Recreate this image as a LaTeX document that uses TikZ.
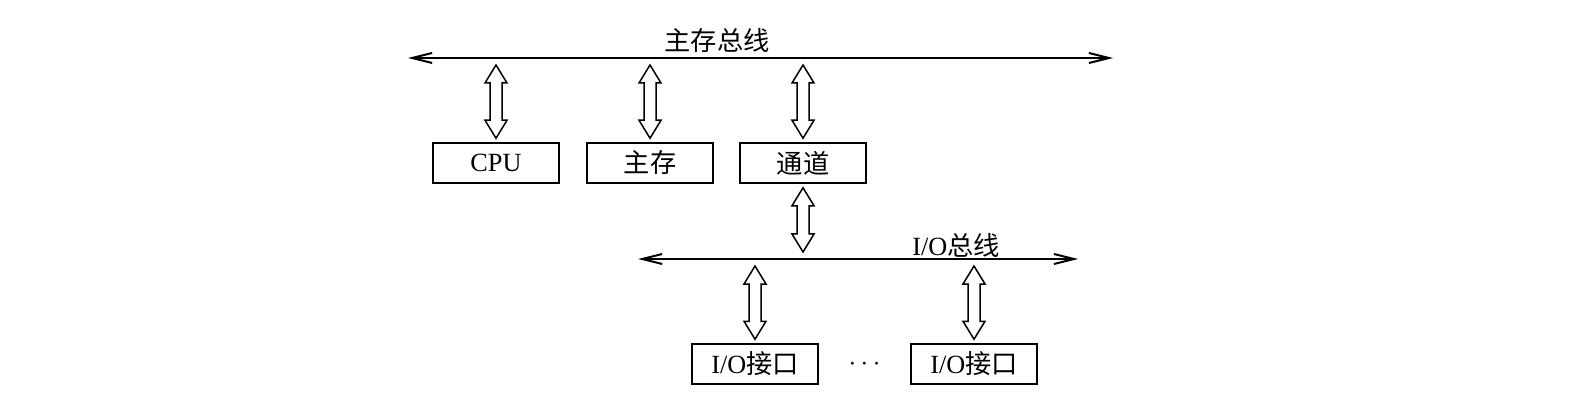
\documentclass[tikz,border=0pt]{standalone}
\usepackage{fontspec}
\setmainfont{Liberation Serif}
\newfontfamily\cjk{Noto Sans CJK SC}
\usetikzlibrary{arrows.meta,positioning,calc}

\begin{document}
\begin{tikzpicture}[
  x=0.4pt, y=-0.4pt,
  font=\fontsize{10.5}{12}\selectfont,
  unit/.style={draw, line width=0.8pt, minimum width=50.4pt, minimum height=16pt, inner sep=0pt},
  bus/.style={{Straight Barb[length=8pt,width=4pt]}-{Straight Barb[length=8pt,width=4pt]}, line width=0.8pt},
  dbl/.style={draw, line width=0.6pt, line join=miter, to path={
    let \p1=(\tikztostart), \p2=(\tikztotarget), \n1={ifthenelse(\y2>\y1,1,-1)} in
    (\x1,\y1+\n1*1.5pt) -- (\x1+4.4pt,\y1+\n1*8.7pt) -- (\x1+2.4pt,\y1+\n1*8.7pt)
    -- (\x1+2.4pt,\y2-\n1*10pt) -- (\x1+4.4pt,\y2-\n1*10pt) -- (\x1,\y2-\n1*2.8pt)
    -- (\x1-4.4pt,\y2-\n1*10pt) -- (\x1-2.4pt,\y2-\n1*10pt)
    -- (\x1-2.4pt,\y1+\n1*8.7pt) -- (\x1-4.4pt,\y1+\n1*8.7pt) -- cycle}}
]
\useasboundingbox (0,0) rectangle (1574,406);
% main bus
\coordinate (mL) at (408,58);
\coordinate (mR) at (1113,58);
\draw[bus] (mL) -- (mR);
\node (mlab) at (717,40) {\cjk 主存总线};
\node[unit] (cpu) at (496,163) {CPU};
\node[unit, right=10.4pt of cpu] (mem) {\cjk 主存};
\node[unit, right=10pt of mem] (chan) {\cjk 通道};
\draw[dbl] (cpu.north) to (cpu.north |- mL);
\draw[dbl] (mem.north) to (mem.north |- mL);
\draw[dbl] (chan.north) to (chan.north |- mL);
% I/O bus
\coordinate (ioL) at (638,259);
\coordinate (ioR) at (1078,259);
\draw[bus] (ioL) -- (ioR);
\node (iolab) at (956,245) {I/O{\cjk 总线}};
\draw[dbl] (chan.south) to (chan.south |- ioL);
\node[unit] (ifa) at (755,364) {I/O{\cjk 接口}};
\node[unit, right=36.4pt of ifa] (ifb) {I/O{\cjk 接口}};
\node (dots) at ($(ifa.east)!0.5!(ifb.west)$) {$\cdots$};
\draw[dbl] (ifa.north) to (ifa.north |- ioL);
\draw[dbl] (ifb.north) to (ifb.north |- ioL);
\end{tikzpicture}
\end{document}
